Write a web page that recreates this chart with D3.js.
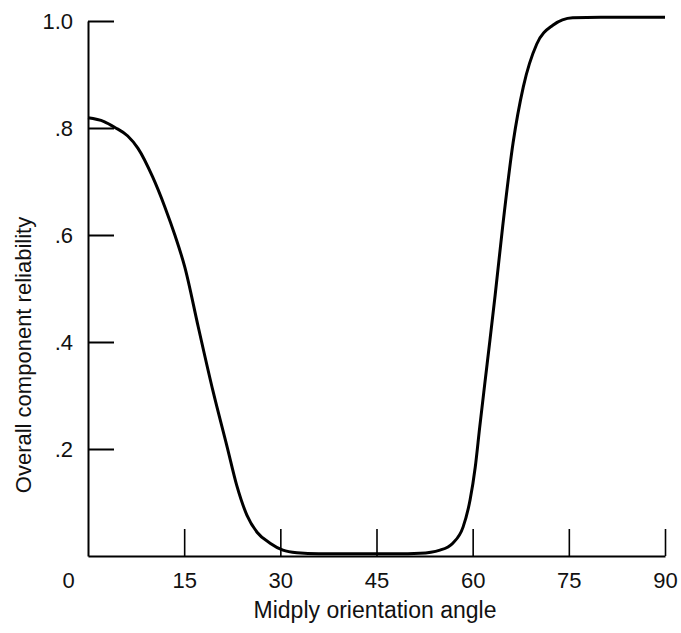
<!DOCTYPE html>
<html>
<head>
<meta charset="utf-8">
<script src="https://cdn.jsdelivr.net/npm/d3@7"></script>
<style>
  body { margin: 0; background: #fff; }
  text { font-family: "Liberation Sans", Arial, sans-serif; fill: #111; }
</style>
</head>
<body>
<svg id="chart"></svg>
<script>
// Curve (angle in degrees, reliability)
const angles = [0, 2.5, 4.2, 6.2, 7.8, 10.1, 12.0, 13.6, 15.1, 17.2, 19.5, 21.7, 23.2, 24.8, 26.4, 28.4, 30.4, 32.6, 36, 42, 48, 51.8,
                54.9, 56.9, 58.5, 59.6, 60.4, 61.1, 61.9, 62.7, 63.5, 64.7, 66.3, 67.9, 70.0, 72.5, 75.6, 80, 90];
const reliability = [0.819, 0.812, 0.801, 0.785, 0.762, 0.708, 0.652, 0.598, 0.540, 0.428, 0.308, 0.204, 0.132, 0.076, 0.044, 0.024, 0.011, 0.006, 0.004, 0.004, 0.004, 0.005,
                     0.011, 0.024, 0.054, 0.105, 0.166, 0.241, 0.323, 0.404, 0.487, 0.618, 0.772, 0.877, 0.957, 0.992, 1.006, 1.007, 1.007];

const xTicks = [0, 15, 30, 45, 60, 75, 90];
const yTicks = [0.2, 0.4, 0.6, 0.8, 1.0];
const yTickLabels = [".2", ".4", ".6", ".8", "1.0"];

const width = 681, height = 633;
const svg = d3.select("#chart").attr("width", width).attr("height", height);

let x = d3.scaleLinear().domain([0, 90]).range([88, 665]);
let y = d3.scaleLinear().domain([0, 1]).range([556, 21]);

// x axis, ticks pointing up
let xAxis = svg.append("g")
    .attr("transform", "translate(0,556)")
    .call(d3.axisBottom(x).tickValues(xTicks).tickSizeInner(-27).tickSizeOuter(0).tickPadding(16));
xAxis.select(".domain").attr("stroke-width", 2);
xAxis.selectAll(".tick line").attr("stroke-width", 1.6);
xAxis.selectAll(".tick text").attr("font-size", "22px").attr("fill", "#111");
// the 0 label sits under the y labels column, no tick mark there
xAxis.selectAll(".tick").filter(d => d === 0).select("line").remove();
xAxis.selectAll(".tick").filter(d => d === 0).select("text").attr("x", -20);

// y axis, ticks pointing right
let yAxis = svg.append("g")
    .attr("transform", "translate(88,0)")
    .call(d3.axisLeft(y).tickValues(yTicks).tickSizeInner(-26).tickSizeOuter(0).tickPadding(15)
        .tickFormat((d, i) => yTickLabels[i]));
yAxis.select(".domain").attr("stroke-width", 2);
yAxis.selectAll(".tick line").attr("stroke-width", 2);
yAxis.selectAll(".tick text").attr("font-size", "22px").attr("fill", "#111");

// curve
let pts = angles.map((a, i) => [a, reliability[i]]);
svg.append("path")
    .datum(pts)
    .attr("fill", "none")
    .attr("stroke", "#000")
    .attr("stroke-width", 3)
    .attr("stroke-linejoin", "round")
    .attr("d", d3.line().x(d => x(d[0])).y(d => y(d[1])).curve(d3.curveMonotoneX));

// axis titles
svg.append("text")
    .attr("x", 375)
    .attr("y", 618)
    .attr("text-anchor", "middle")
    .attr("font-size", "23px")
    .text("Midply orientation angle");

svg.append("text")
    .attr("transform", "translate(31,355) rotate(-90)")
    .attr("text-anchor", "middle")
    .attr("font-size", "22px")
    .text("Overall component reliability");
</script>
</body>
</html>
